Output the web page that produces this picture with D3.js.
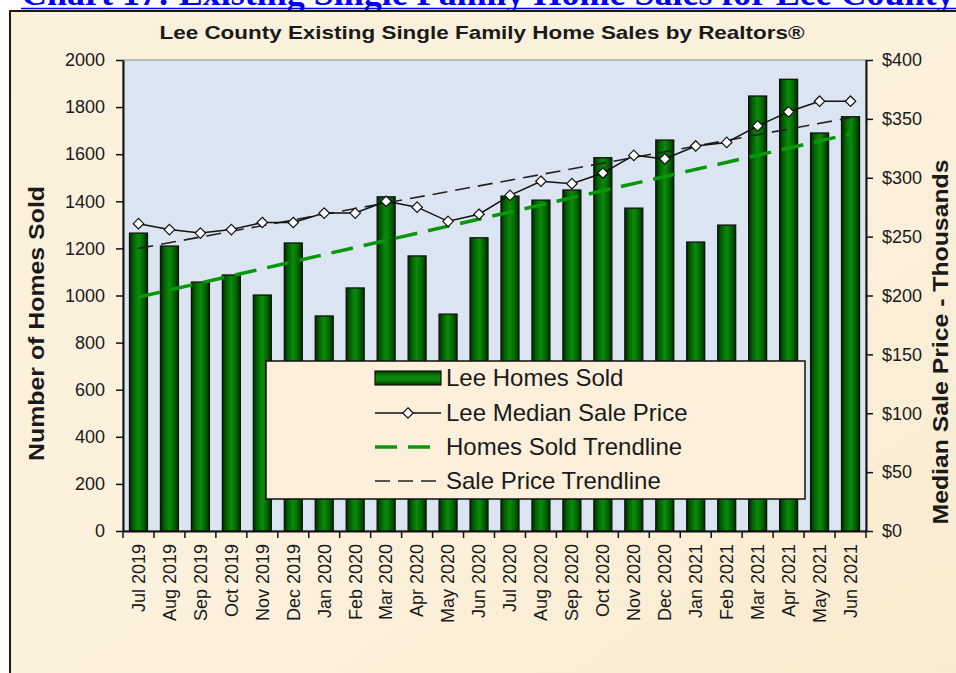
<!DOCTYPE html>
<html>
<head>
<meta charset="utf-8">
<script src="https://cdn.jsdelivr.net/npm/d3@7"></script>
<style>
  body { margin: 0; background: #fff; }
  svg { display: block; }
</style>
</head>
<body>
<div class="chart"></div>
<script>
// Chart data
const months = ["Jul 2019", "Aug 2019", "Sep 2019", "Oct 2019", "Nov 2019", "Dec 2019",
  "Jan 2020", "Feb 2020", "Mar 2020", "Apr 2020", "May 2020", "Jun 2020",
  "Jul 2020", "Aug 2020", "Sep 2020", "Oct 2020", "Nov 2020", "Dec 2020",
  "Jan 2021", "Feb 2021", "Mar 2021", "Apr 2021", "May 2021", "Jun 2021"];
const homesSold = [1265, 1210, 1057, 1087, 1002, 1223, 913, 1032, 1419, 1168, 921, 1245,
  1422, 1405, 1448, 1585, 1371, 1660, 1227, 1299, 1847, 1918, 1690, 1759];
const medianPrice = [261, 256, 253, 256, 262, 262, 270, 270, 280, 275, 263, 269,
  285, 297, 295, 304, 319, 316, 327, 330, 344, 356, 365, 365];
// trendline end values (first month, last month)
const homesTrend = [993, 1686];
const priceTrend = [240, 351];
const leftTicks = [0, 200, 400, 600, 800, 1000, 1200, 1400, 1600, 1800, 2000];
const rightTicks = [0, 50, 100, 150, 200, 250, 300, 350, 400];
const legendItems = ["Lee Homes Sold", "Lee Median Sale Price", "Homes Sold Trendline", "Sale Price Trendline"];

const W = 956, H = 673;
const plot = { left: 123, right: 866, top: 60, bottom: 531 };
const font = "'Liberation Sans', Arial, sans-serif";

const svg = d3.select(".chart").append("svg")
  .attr("width", W)
  .attr("height", H)
  .style("font-family", font);

const defs = svg.append("defs");

// paper background
const paper = defs.append("linearGradient").attr("id", "paper")
  .attr("x1", 0).attr("y1", 0).attr("x2", 1).attr("y2", 1);
paper.append("stop").attr("offset", "0%").attr("stop-color", "#fbf0dc");
paper.append("stop").attr("offset", "50%").attr("stop-color", "#fcf1dd");
paper.append("stop").attr("offset", "100%").attr("stop-color", "#f9ebcf");

// bar shading, dark edges and lighter middle
const barGrad = defs.append("linearGradient").attr("id", "barGrad")
  .attr("x1", 0).attr("y1", 0).attr("x2", 1).attr("y2", 0);
[["0%", "#002a00"], ["22%", "#006400"], ["50%", "#0d8a0d"], ["78%", "#006400"], ["100%", "#002a00"]]
  .forEach(s => barGrad.append("stop").attr("offset", s[0]).attr("stop-color", s[1]));

const legGrad = defs.append("linearGradient").attr("id", "legGrad")
  .attr("x1", 0).attr("y1", 0).attr("x2", 0).attr("y2", 1);
[["0%", "#003300"], ["35%", "#0b850b"], ["65%", "#0b850b"], ["100%", "#003300"]]
  .forEach(s => legGrad.append("stop").attr("offset", s[0]).attr("stop-color", s[1]));

// header link text, cut off at the top like the page it came from
const header = svg.append("text")
  .attr("x", 21)
  .attr("y", 5)
  .attr("fill", "#0000ee")
  .style("font-family", "'Liberation Serif', 'Times New Roman', serif")
  .style("font-weight", "bold")
  .style("font-size", "30px")
  .text("Chart 17: Existing Single Family Home Sales for Lee County");
const hl = header.node().getComputedTextLength();
header.style("font-size", (30 * 934 / hl) + "px");
svg.append("line")
  .attr("x1", 21).attr("x2", W).attr("y1", 8.5).attr("y2", 8.5)
  .attr("stroke", "#0000ee").attr("stroke-width", 1.5);

// frame
svg.append("rect")
  .attr("x", 10).attr("y", 11)
  .attr("width", W).attr("height", H)
  .attr("fill", "url(#paper)")
  .attr("stroke", "#1a1a1a")
  .attr("stroke-width", 2);

// chart title
svg.append("text")
  .attr("x", 482)
  .attr("y", 39)
  .attr("text-anchor", "middle")
  .style("font-weight", "bold")
  .style("font-size", "19px")
  .attr("fill", "#1a1a1a")
  .attr("textLength", 645)
  .attr("lengthAdjust", "spacingAndGlyphs")
  .text("Lee County Existing Single Family Home Sales by Realtors®");

// scales
const x = d3.scaleBand()
  .domain(months)
  .range([plot.left, plot.right])
  .paddingInner(0.42)
  .paddingOuter(0.21);

const y = d3.scaleLinear().domain([0, 2000]).range([plot.bottom, plot.top]);
const y2 = d3.scaleLinear().domain([0, 400]).range([plot.bottom, plot.top]);

const cx = m => x(m) + x.bandwidth() / 2;

// plot background
svg.append("rect")
  .attr("x", plot.left).attr("y", plot.top)
  .attr("width", plot.right - plot.left).attr("height", plot.bottom - plot.top)
  .attr("fill", "#dbe5f1")
  .attr("stroke", "#8a8a8a")
  .attr("stroke-width", 1);

// bars
svg.selectAll(".bar")
  .data(months)
  .enter()
  .append("rect")
  .attr("class", "bar")
  .attr("x", d => x(d))
  .attr("y", (d, i) => y(homesSold[i]))
  .attr("width", x.bandwidth())
  .attr("height", (d, i) => y(0) - y(homesSold[i]))
  .attr("fill", "url(#barGrad)")
  .attr("stroke", "#111")
  .attr("stroke-width", 1.3);

// homes sold trendline
svg.append("line")
  .attr("x1", cx(months[0])).attr("y1", y(homesTrend[0]))
  .attr("x2", cx(months[months.length - 1])).attr("y2", y(homesTrend[1]))
  .attr("stroke", "#0a960a")
  .attr("stroke-width", 3.5)
  .attr("stroke-dasharray", "22 11");

// sale price trendline
svg.append("line")
  .attr("x1", cx(months[0])).attr("y1", y2(priceTrend[0]))
  .attr("x2", cx(months[months.length - 1])).attr("y2", y2(priceTrend[1]))
  .attr("stroke", "#222")
  .attr("stroke-width", 1.6)
  .attr("stroke-dasharray", "15 8");

// median price line + diamonds
const line = d3.line()
  .x((d, i) => cx(months[i]))
  .y(d => y2(d));

svg.append("path")
  .attr("d", line(medianPrice))
  .attr("fill", "none")
  .attr("stroke", "#111")
  .attr("stroke-width", 1.5);

const diamond = d3.symbol().type(d3.symbolDiamond2).size(70);
svg.selectAll(".pt")
  .data(medianPrice)
  .enter()
  .append("path")
  .attr("class", "pt")
  .attr("d", diamond)
  .attr("transform", (d, i) => `translate(${cx(months[i])},${y2(d)})`)
  .attr("fill", "#fff")
  .attr("stroke", "#111")
  .attr("stroke-width", 1.2);

// left axis
const gLeft = svg.append("g")
  .attr("transform", `translate(${plot.left},0)`)
  .call(d3.axisLeft(y).tickValues(leftTicks).tickFormat(d => String(d))
    .tickSize(7).tickPadding(11).tickSizeOuter(0));
gLeft.select(".domain").attr("stroke", "#111").attr("stroke-width", 2);
gLeft.selectAll(".tick line").attr("stroke", "#111").attr("stroke-width", 1.5);
gLeft.selectAll(".tick text")
  .style("font-family", font).style("font-size", "18px").attr("fill", "#1a1a1a");

// right axis
const gRight = svg.append("g")
  .attr("transform", `translate(${plot.right},0)`)
  .call(d3.axisRight(y2).tickValues(rightTicks).tickFormat(d => "$" + d)
    .tickSize(7).tickPadding(9).tickSizeOuter(0));
gRight.select(".domain").attr("stroke", "#111").attr("stroke-width", 2);
gRight.selectAll(".tick line").attr("stroke", "#111").attr("stroke-width", 1.5);
gRight.selectAll(".tick text")
  .style("font-family", font).style("font-size", "18px").attr("fill", "#1a1a1a");

// bottom axis: labels at band centres, tick marks at band edges
const gBottom = svg.append("g")
  .attr("transform", `translate(0,${plot.bottom})`)
  .call(d3.axisBottom(x).tickSize(0).tickSizeOuter(0));
gBottom.select(".domain").attr("stroke", "#111").attr("stroke-width", 2);
gBottom.selectAll(".tick text")
  .style("font-family", font).style("font-size", "18px").attr("fill", "#1a1a1a")
  .attr("text-anchor", "end")
  .attr("transform", "rotate(-90)")
  .attr("x", -13)
  .attr("y", 0)
  .attr("dy", "0.35em");
gBottom.selectAll(".edge")
  .data(d3.range(months.length + 1))
  .enter()
  .append("line")
  .attr("class", "edge")
  .attr("x1", i => plot.left + i * x.step())
  .attr("x2", i => plot.left + i * x.step())
  .attr("y1", 0).attr("y2", 7)
  .attr("stroke", "#111").attr("stroke-width", 1.5);

// axis titles
svg.append("text")
  .attr("transform", `translate(44,${(plot.top + plot.bottom) / 2 + 28}) rotate(-90)`)
  .attr("text-anchor", "middle")
  .style("font-weight", "bold").style("font-size", "22px")
  .attr("fill", "#1a1a1a")
  .attr("textLength", 275).attr("lengthAdjust", "spacingAndGlyphs")
  .text("Number of Homes Sold");

svg.append("text")
  .attr("transform", `translate(948,${342}) rotate(-90)`)
  .attr("text-anchor", "middle")
  .style("font-weight", "bold").style("font-size", "22px")
  .attr("fill", "#1a1a1a")
  .attr("textLength", 365).attr("lengthAdjust", "spacingAndGlyphs")
  .text("Median Sale Price - Thousands");

// legend
const leg = svg.append("g");
leg.append("rect")
  .attr("x", 266).attr("y", 361)
  .attr("width", 539).attr("height", 138)
  .attr("fill", "#fcf0dc")
  .attr("stroke", "#111")
  .attr("stroke-width", 1.5);

const rowY = [378, 413, 447, 481];
const sx0 = 375, sx1 = 441;

leg.append("rect")
  .attr("x", sx0).attr("y", rowY[0] - 7)
  .attr("width", sx1 - sx0).attr("height", 14)
  .attr("fill", "url(#legGrad)")
  .attr("stroke", "#111").attr("stroke-width", 1.2);

leg.append("line")
  .attr("x1", sx0).attr("x2", sx1).attr("y1", rowY[1]).attr("y2", rowY[1])
  .attr("stroke", "#111").attr("stroke-width", 1.5);
leg.append("path")
  .attr("d", diamond)
  .attr("transform", `translate(${(sx0 + sx1) / 2},${rowY[1]})`)
  .attr("fill", "#fff").attr("stroke", "#111").attr("stroke-width", 1.2);

leg.append("line")
  .attr("x1", sx0).attr("x2", sx1).attr("y1", rowY[2]).attr("y2", rowY[2])
  .attr("stroke", "#0a960a").attr("stroke-width", 3.5)
  .attr("stroke-dasharray", "22 11");

leg.append("line")
  .attr("x1", sx0).attr("x2", sx1).attr("y1", rowY[3]).attr("y2", rowY[3])
  .attr("stroke", "#222").attr("stroke-width", 1.6)
  .attr("stroke-dasharray", "15 8");

leg.selectAll(".legtext")
  .data(legendItems)
  .enter()
  .append("text")
  .attr("class", "legtext")
  .attr("x", 446)
  .attr("y", (d, i) => rowY[i] + 8)
  .style("font-size", "24px")
  .attr("fill", "#1a1a1a")
  .text(d => d);
</script>
</body>
</html>
